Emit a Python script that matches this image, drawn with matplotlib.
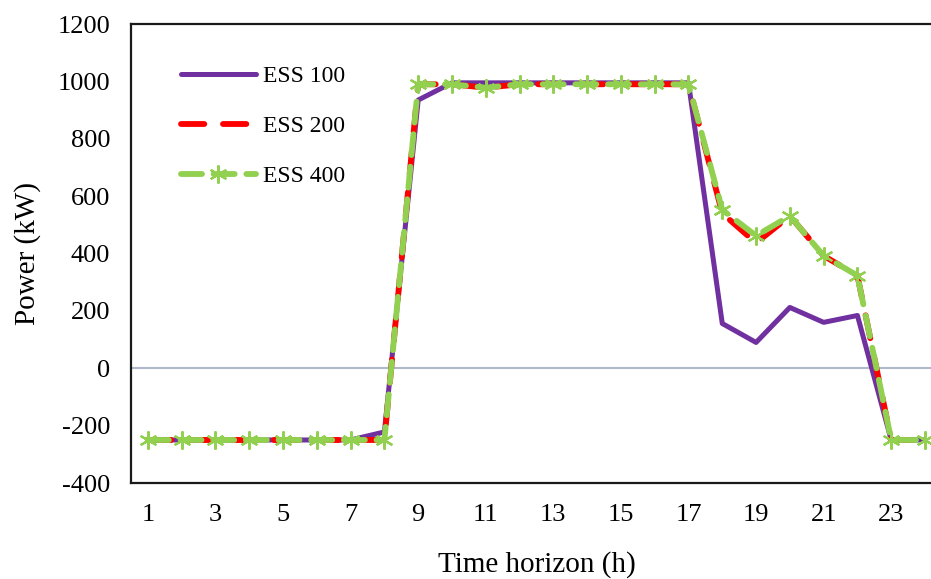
import matplotlib
matplotlib.use("Agg")
import matplotlib.pyplot as plt

plt.rcParams['font.family'] = ['Liberation Serif', 'DejaVu Serif']
plt.rcParams['axes.unicode_minus'] = False

hours = list(range(1, 25))
ess100 = [-250, -250, -250, -250, -250, -250, -250, -222, 935, 995, 995, 995,
          995, 995, 995, 995, 995, 156, 90, 212, 160, 184, -250, -250]
ess200 = [-250, -250, -250, -250, -250, -250, -250, -250, 990, 990, 978, 990,
          990, 990, 990, 990, 990, 540, 437, 531, 392, 323, -250, -250]
ess400 = [-250, -250, -250, -250, -250, -250, -250, -250, 990, 990, 978, 990,
          990, 990, 990, 990, 990, 552, 462, 531, 392, 323, -250, -250]
xticks = list(range(1, 25, 2))
yticks = list(range(-400, 1201, 200))

fig = plt.figure(figsize=(9.31, 5.79), dpi=100)
ax = fig.add_axes([0.1407, 0.1658, 0.871, 0.7927])

ax.axhline(0, color='#B0B9CB', lw=1.5, zorder=1)
ax.plot(hours, ess100, color='#7030A0', lw=3.6, solid_capstyle='round',
        label='ESS 100', zorder=2)
ax.plot(hours, ess200, color='#FF0000', lw=4.2, dashes=(4, 3.2),
        dash_capstyle='round', label='ESS 200', zorder=3)
ax.plot(hours, ess400, color='#92D050', lw=4.2, dashes=(3.6, 2.0),
        dash_capstyle='round', marker=(6, 2, 0), markersize=13,
        markeredgewidth=1.6, markeredgecolor='#92D050',
        label='ESS 400', zorder=4)

ax.set_xlim(0.5, 24.5)
ax.set_ylim(-400, 1200)
ax.set_xticks(xticks)
ax.set_yticks(yticks)
ax.tick_params(length=0, labelsize=19, pad=15)
for s in ax.spines.values():
    s.set_linewidth(1.6)
    s.set_color('#1a1a1a')

ax.set_xlabel('Time horizon (h)', fontsize=21, labelpad=18)
ax.set_ylabel('Power (kW)', fontsize=21, labelpad=12)

ax.legend(loc='upper left', bbox_to_anchor=(0.035, 0.955), frameon=False,
          fontsize=17, handlelength=3.2, handletextpad=0.3,
          labelspacing=1.2)

fig.savefig('out.png', dpi=100)
